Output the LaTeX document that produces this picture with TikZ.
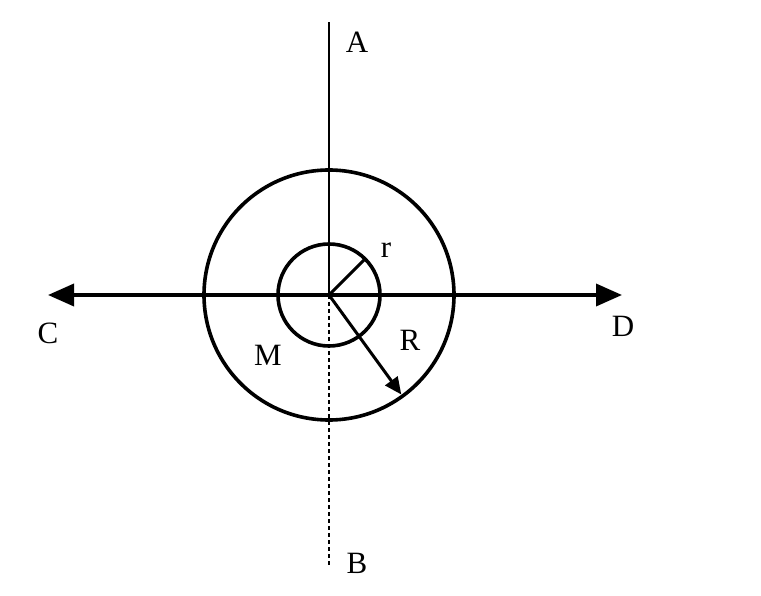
\documentclass[tikz,border=0pt]{standalone}
\usepackage{fontspec}
\setmainfont{Liberation Serif}
\usetikzlibrary{arrows.meta}
\tikzset{lbl/.style={font=\fontsize{31}{34}\selectfont,inner sep=0pt},
  axis/.style={line width=3.6pt,-{Triangle[length=26pt,width=22pt]}}}
\begin{document}
\begin{tikzpicture}[x=1pt,y=-1pt]
\useasboundingbox (0,0) rectangle (761,596);
\coordinate (O) at (329,295);
\coordinate (top) at (329,22);
\coordinate (bot) at (329,565);
\coordinate (left) at (48,295);
\coordinate (right) at (622,295);
\draw[line width=2.4pt] (O)--(top);
\draw[line width=1.8pt,dash pattern=on 4pt off 3pt] (O)--(bot);
\draw[axis] (O)--(left);
\draw[axis] (O)--(right);
\draw[line width=3.6pt] (O) circle[radius=125];
\draw[line width=3.6pt] (O) circle[radius=51];
\draw[line width=3pt] (O)--++(-45:51);
\draw[line width=3pt,-{Triangle[length=17pt,width=15pt]}] (O)--++(54:123);
\node[lbl] (A) at (357,42) {A};
\node[lbl] (B) at (357,563) {B};
\node[lbl] (C) at (48,333) {C};
\node[lbl] (D) at (623,326) {D};
\node[lbl] (M) at (268,355) {M};
\node[lbl] (R) at (410,340) {R};
\node[lbl] (r) at (386,250) {r};
\end{tikzpicture}
\end{document}
